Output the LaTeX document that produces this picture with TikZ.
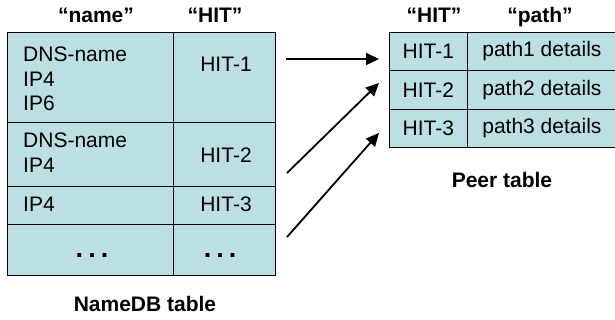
\documentclass[tikz,border=0pt]{standalone}
\usepackage{fontspec}
\setmainfont{Liberation Sans}
\usetikzlibrary{arrows.meta, positioning}
\definecolor{cellblue}{RGB}{187,223,227}
\tikzset{
  cell/.style={draw, thick, fill=cellblue, anchor=north west, inner sep=0pt,
    font=\fontsize{21}{24.5}\selectfont},
  txt/.style={inner sep=0pt, font=\fontsize{21}{24.5}\selectfont},
  head/.style={inner sep=0pt, font=\fontsize{21}{24.5}\selectfont\bfseries},
  dots/.style={inner sep=0pt, font=\fontsize{27}{30}\selectfont\bfseries},
  arr/.style={-{Triangle[length=13pt, width=12pt]}, line width=1.8pt},
}
\begin{document}
\begin{tikzpicture}[x=1pt, y=-1pt]
  \useasboundingbox (0,0) rectangle (615,320);
  % NameDB table
  \node[cell, minimum width=166pt, minimum height=90pt] (n1) at (7,32) {};
  \node[cell, minimum width=102pt, minimum height=90pt] (h1) at (173,32) {};
  \node[cell, minimum width=166pt, minimum height=64pt] (n2) at (7,122) {};
  \node[cell, minimum width=102pt, minimum height=64pt] (h2) at (173,122) {};
  \node[cell, minimum width=166pt, minimum height=38pt] (n3) at (7,186) {};
  \node[cell, minimum width=102pt, minimum height=38pt] (h3) at (173,186) {};
  \node[cell, minimum width=166pt, minimum height=51pt] (n4) at (7,224) {};
  \node[cell, minimum width=102pt, minimum height=51pt] (h4) at (173,224) {};
  \node[txt, anchor=base west] (t1) at (23,62) {DNS-name};
  \node[txt, anchor=base west] (t1b) at (23,86.5) {IP4};
  \node[txt, anchor=base west] (t1c) at (23,111) {IP6};
  \node[txt, anchor=base west] (t2) at (23,148) {DNS-name};
  \node[txt, anchor=base west] (t2b) at (23,172.5) {IP4};
  \node[txt, anchor=base west] (t3) at (23,212) {IP4};
  \node[txt, anchor=base] (k1) at (226,72) {HIT-1};
  \node[txt, anchor=base] (k2) at (226,163) {HIT-2};
  \node[txt, anchor=base] (k3) at (226,212) {HIT-3};
  \node[dots, anchor=base] (d1) at (92,257) {.\hspace{5pt}.\hspace{5pt}.};
  \node[dots, anchor=base] (d2) at (220,257) {.\hspace{5pt}.\hspace{5pt}.};
  \node[head, anchor=base] (hname) at (96,23) {“name”};
  \node[head, anchor=base] (hhit) at (215,23) {“HIT”};
  \node[head, anchor=base] (ndb) at (145,311) {NameDB table};
  % Peer table
  \node[cell, minimum width=78pt, minimum height=38.3pt] (p1) at (389,32) {HIT-1};
  \node[cell, minimum width=149pt, minimum height=38.3pt] (q1) at (467,32) {path1 details};
  \node[cell, minimum width=78pt, minimum height=38.3pt] (p2) at (389,70.3) {HIT-2};
  \node[cell, minimum width=149pt, minimum height=38.3pt] (q2) at (467,70.3) {path2 details};
  \node[cell, minimum width=78pt, minimum height=38.3pt] (p3) at (389,108.6) {HIT-3};
  \node[cell, minimum width=149pt, minimum height=38.3pt] (q3) at (467,108.6) {path3 details};
  \node[head, anchor=base] (phit) at (434,23) {“HIT”};
  \node[head, anchor=base] (ppath) at (540,23) {“path”};
  \node[head, anchor=base] (peer) at (502,188) {Peer table};
  % arrows
  \coordinate (s1) at (286,59);
  \coordinate (s2) at (287,173);
  \coordinate (s3) at (287,237);
  \coordinate (e1) at (379,59);
  \coordinate (e2) at (379,83);
  \coordinate (e3) at (379,133);
  \draw[arr] (s1) -- (e1);
  \draw[arr] (s2) -- (e2);
  \draw[arr] (s3) -- (e3);
\end{tikzpicture}
\end{document}
